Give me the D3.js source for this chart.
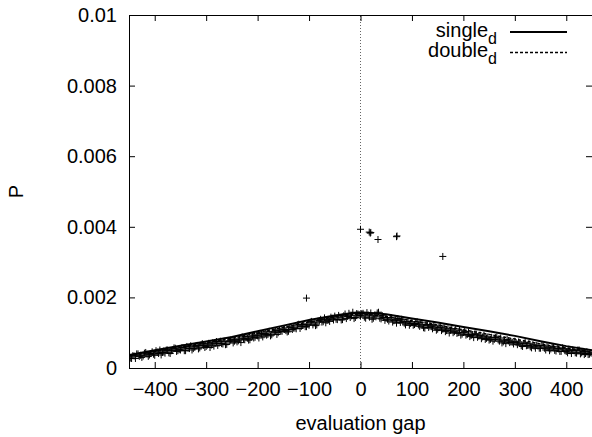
<!DOCTYPE html>
<html>
<head>
<meta charset="utf-8">
<script src="https://cdn.jsdelivr.net/npm/d3@7"></script>
<style>
  body { margin: 0; background: #fff; }
  svg { display: block; font-family: "Liberation Sans", Arial, Helvetica, sans-serif; }
</style>
</head>
<body>
<div id="chart"></div>
<script>
var W = 592, H = 437;
var margin = {top: 15, right: 0, bottom: 69, left: 129},
    width = 463,
    height = H - margin.top - margin.bottom;

// x ticks / y ticks
var xTicks = [-400, -300, -200, -100, 0, 100, 200, 300, 400];
var yTicks = [0, 0.002, 0.004, 0.006, 0.008, 0.01];
var yTickLabels = ["0", "0.002", "0.004", "0.006", "0.008", "0.01"];

// fitted curves (P in units of 1e-5)
var lineGap = [-450, -400, -350, -300, -250, -200, -150, -100, -50, 0, 50, 100, 150, 200, 250, 300, 350, 400, 450];
var singleP = [37, 50, 63, 75, 88, 104, 120, 136, 149, 158, 152, 140, 129, 116, 104, 91, 76, 62, 50];
var doubleP = [35, 47, 59, 71, 84, 99, 115, 131, 145, 154, 146, 134, 122, 108, 95, 82, 68, 56, 46];

// measured points, gap -450..450 every 5 (P in units of 1e-5)
var pointGap = d3.range(-450, 451, 5);
var pointP = [
  34, 27, 34, 40, 33, 30, 42, 39, 37, 46,
  36, 45, 51, 44, 42, 51, 41, 51, 56, 49,
  51, 58, 49, 56, 63, 55, 62, 54, 65, 64,
  61, 70, 65, 62, 75, 70, 69, 76, 67, 76,
  80, 76, 74, 82, 88, 80, 84, 80, 91, 87,
  91, 98, 88, 98, 95, 91, 102, 106, 100, 104,
  110, 106, 104, 116, 113, 111, 124, 118, 123, 117,
  121, 132, 128, 122, 134, 130, 142, 135, 132, 141,
  147, 137, 144, 137, 153, 146, 143, 158, 143, 153,
  148, 155, 141, 150, 156, 141, 145, 158, 139, 143,
  143, 133, 142, 134, 127, 135, 138, 127, 130, 121,
  131, 123, 131, 118, 122, 113, 121, 123, 111, 116,
  110, 119, 110, 103, 111, 107, 100, 111, 100, 93,
  101, 93, 102, 92, 86, 96, 91, 83, 93, 84,
  79, 87, 81, 88, 76, 71, 79, 81, 72, 73,
  76, 66, 70, 61, 73, 64, 60, 66, 56, 62,
  56, 63, 51, 57, 54, 60, 48, 54, 47, 54,
  47, 53, 41, 49, 42, 51, 43, 38, 46, 39, 42
];

// second set of points, gap -447.5..447.5 every 5
var pointGap2 = d3.range(-447.5, 450, 5);
var pointP2 = [
  28, 35, 27, 40, 36, 34, 44, 33, 41, 39,
  49, 41, 37, 48, 51, 43, 49, 57, 47, 52,
  57, 49, 61, 55, 51, 60, 64, 57, 69, 58,
  65, 58, 71, 70, 64, 76, 68, 66, 76, 79,
  71, 80, 77, 72, 83, 89, 79, 88, 85, 93,
  85, 96, 94, 93, 104, 94, 102, 95, 108, 104,
  109, 102, 115, 109, 113, 122, 112, 122, 117, 124,
  130, 122, 120, 133, 138, 131, 128, 137, 144, 136,
  138, 149, 136, 148, 140, 155, 148, 140, 154, 149,
  154, 144, 157, 144, 138, 150, 156, 141, 148, 135,
  138, 143, 130, 137, 140, 129, 132, 122, 132, 126,
  121, 126, 122, 128, 114, 123, 115, 117, 121, 107,
  115, 106, 114, 106, 99, 111, 103, 98, 107, 96,
  104, 95, 89, 95, 97, 87, 93, 88, 81, 88,
  81, 76, 86, 80, 85, 74, 69, 77, 74, 68,
  72, 74, 63, 69, 63, 70, 57, 62, 64, 56,
  64, 56, 60, 49, 59, 50, 55, 47, 57, 49,
  43, 49, 51, 43, 51, 40, 47, 41, 38, 43
];

// isolated points
var outGap = [-105, 0, 17, 19, 20, 34, 70, 71, 160];
var outP = [198, 393, 385, 382, 384, 364, 372, 374, 316];

var svg = d3.select("#chart").append("svg")
    .attr("width", W)
    .attr("height", H);

var x = d3.scaleLinear().domain([-450, 450]).range([margin.left, margin.left + width]);
var y = d3.scaleLinear().domain([0, 0.01]).range([margin.top + height, margin.top]);

svg.append("clipPath").attr("id", "clip")
  .append("rect")
    .attr("x", margin.left).attr("y", margin.top)
    .attr("width", width).attr("height", height);

// zero line
svg.append("line")
    .attr("x1", x(0)).attr("x2", x(0))
    .attr("y1", y(0)).attr("y2", y(0.01))
    .attr("stroke", "#666")
    .attr("stroke-width", 1)
    .attr("stroke-dasharray", "1,2");

var plus = "M-3.5,0H3.5M0,-3.5V3.5";
var g = svg.append("g").attr("clip-path", "url(#clip)");

var pts = pointGap.map(function(d, i) { return [d, pointP[i]]; })
  .concat(pointGap2.map(function(d, i) { return [d, pointP2[i]]; }))
  .concat(outGap.map(function(d, i) { return [d, outP[i]]; }));

g.selectAll(".pt")
  .data(pts)
  .enter().append("path")
    .attr("class", "pt")
    .attr("d", plus)
    .attr("transform", function(d) { return "translate(" + x(d[0]) + "," + y(d[1] * 1e-5) + ")"; })
    .attr("stroke", "#000")
    .attr("stroke-width", 1)
    .attr("fill", "none");

var line = d3.line()
    .x(function(d) { return x(d[0]); })
    .y(function(d) { return y(d[1] * 1e-5); });

g.append("path")
    .attr("d", line(lineGap.map(function(d, i) { return [d, singleP[i]]; })))
    .attr("fill", "none").attr("stroke", "#000").attr("stroke-width", 2);

g.append("path")
    .attr("d", line(lineGap.map(function(d, i) { return [d, doubleP[i]]; })))
    .attr("fill", "none").attr("stroke", "#000").attr("stroke-width", 1.5)
    .attr("stroke-dasharray", "3,2");

// axes, ticks pointing inward, mirrored
var tk = 6;
svg.append("g")
    .attr("transform", "translate(0," + y(0) + ")")
    .call(d3.axisBottom(x).tickValues(xTicks).tickSizeInner(-tk).tickSizeOuter(0).tickPadding(14))
    .call(function(a) { a.select(".domain").remove(); });
svg.append("g")
    .attr("transform", "translate(0," + y(0.01) + ")")
    .call(d3.axisTop(x).tickValues(xTicks).tickSizeInner(-tk).tickSizeOuter(0).tickFormat(""))
    .call(function(a) { a.select(".domain").remove(); });
svg.append("g")
    .attr("transform", "translate(" + margin.left + ",0)")
    .call(d3.axisLeft(y).tickValues(yTicks).tickSizeInner(-tk).tickSizeOuter(0).tickPadding(12)
      .tickFormat(function(d, i) { return yTickLabels[i]; }))
    .call(function(a) { a.select(".domain").remove(); });
svg.append("g")
    .attr("transform", "translate(" + (margin.left + width) + ",0)")
    .call(d3.axisRight(y).tickValues(yTicks).tickSizeInner(-tk).tickSizeOuter(0).tickFormat(""))
    .call(function(a) { a.select(".domain").remove(); });

svg.selectAll(".tick text")
    .attr("font-size", "20px")
    .attr("font-family", "Liberation Sans, Arial, sans-serif")
    .attr("fill", "#000");

svg.append("rect")
    .attr("x", margin.left + 0.5).attr("y", margin.top + 0.5)
    .attr("width", width).attr("height", height)
    .attr("fill", "none").attr("stroke", "#000").attr("stroke-width", 1);

// axis titles
svg.append("text")
    .attr("x", x(0)).attr("y", 430)
    .attr("text-anchor", "middle")
    .attr("font-size", "20px")
    .text("evaluation gap");
svg.append("text")
    .attr("transform", "translate(23," + (margin.top + height / 2) + ") rotate(-90)")
    .attr("text-anchor", "middle")
    .attr("font-size", "20px")
    .text("P");

// legend
var legend = [
  {name: "single", sub: "d", dash: null, w: 2, y: 32},
  {name: "double", sub: "d", dash: "3,2", w: 1.5, y: 52.5}
];
var lg = svg.selectAll(".leg").data(legend).enter().append("g").attr("class", "leg");
var lt = lg.append("text")
    .attr("x", 497).attr("y", function(d) { return d.y + 4.5; })
    .attr("text-anchor", "end")
    .attr("font-size", "20px");
lt.append("tspan").text(function(d) { return d.name; });
lt.append("tspan").attr("dy", 7).attr("font-size", "16px").text(function(d) { return d.sub; });
lg.append("line")
    .attr("x1", 510).attr("x2", 567)
    .attr("y1", function(d) { return d.y; }).attr("y2", function(d) { return d.y; })
    .attr("stroke", "#000")
    .attr("stroke-width", function(d) { return d.w; })
    .attr("stroke-dasharray", function(d) { return d.dash; });
</script>
</body>
</html>
